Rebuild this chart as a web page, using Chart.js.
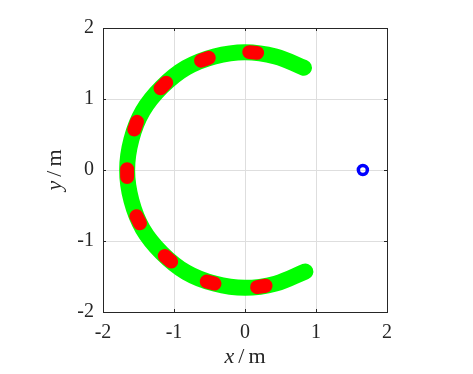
<!DOCTYPE html>
<html>
<head>
<meta charset="utf-8">
<script src="https://cdn.jsdelivr.net/npm/chart.js@4"></script>
<style>
html, body { margin: 0; padding: 0; background: #fff; }
#wrap { width: 473px; height: 374px; }
</style>
</head>
<body>
<div id="wrap"><canvas id="chart" width="473" height="374"></canvas></div>
<script>
// --- DATA ---

// green arc, sampled every ~15 degrees
const arcX = [0.83, 0.43, 0.00, -0.43, -0.83, -1.17, -1.44, -1.60, -1.66, -1.60, -1.44, -1.17, -0.83, -0.43, 0.00, 0.43, 0.85];
const arcY = [1.44, 1.60, 1.66, 1.60, 1.44, 1.17, 0.83, 0.43, 0.00, -0.43, -0.83, -1.17, -1.44, -1.60, -1.66, -1.60, -1.43];

// red dashes: start / end of each short segment
const dashX = [[0.17, 0.06], [-0.51, -0.62], [-1.11, -1.19], [-1.52, -1.56], [-1.66, -1.66],
               [-1.53, -1.48], [-1.13, -1.04], [-0.54, -0.43], [0.17, 0.29]];
const dashY = [[1.65, 1.66], [1.58, 1.54], [1.23, 1.15], [0.68, 0.57], [0.01, -0.10],
               [-0.65, -0.75], [-1.21, -1.29], [-1.57, -1.60], [-1.65, -1.63]];

// blue marker
const markerX = [1.66];
const markerY = [0];

const axisMin = -2;
const axisMax = 2;
const tickValues = [-2, -1, 0, 1, 2];

// --- PLUGIN: box, inward ticks, TeX-like axis labels ---

const boxPlugin = {
    id: 'box',
    afterDraw(chart) {
        const { ctx, chartArea: a, scales } = chart;
        ctx.save();
        ctx.strokeStyle = '#262626';
        ctx.lineWidth = 1;
        ctx.strokeRect(Math.round(a.left) + 0.5, Math.round(a.top) + 0.5,
            Math.round(a.right - a.left), Math.round(a.bottom - a.top));

        const len = 3;
        ctx.beginPath();
        tickValues.forEach(v => {
            const px = Math.round(scales.x.getPixelForValue(v)) + 0.5;
            ctx.moveTo(px, a.bottom); ctx.lineTo(px, a.bottom - len);
            ctx.moveTo(px, a.top); ctx.lineTo(px, a.top + len);
            const py = Math.round(scales.y.getPixelForValue(v)) + 0.5;
            ctx.moveTo(a.left, py); ctx.lineTo(a.left + len, py);
            ctx.moveTo(a.right, py); ctx.lineTo(a.right - len, py);
        });
        ctx.stroke();

        // axis labels: italic variable, upright unit
        ctx.fillStyle = '#262626';
        ctx.textBaseline = 'alphabetic';
        const drawLabel = (v, x, y) => {
            const italic = 'italic 22px "Liberation Serif", serif';
            const upright = '22px "Liberation Serif", serif';
            ctx.font = italic;
            const w1 = ctx.measureText(v).width;
            ctx.font = upright;
            const w2 = ctx.measureText('/').width;
            const w3 = ctx.measureText('m').width;
            const gap = 4;
            let cx = x - (w1 + w2 + w3 + 2 * gap) / 2;
            ctx.textAlign = 'left';
            ctx.font = italic;
            ctx.fillText(v, cx, y);
            cx += w1 + gap;
            ctx.font = upright;
            ctx.fillText('/', cx, y);
            cx += w2 + gap;
            ctx.fillText('m', cx, y);
        };
        drawLabel('x', (a.left + a.right) / 2, 363);

        ctx.translate(61, (a.top + a.bottom) / 2);
        ctx.rotate(-Math.PI / 2);
        drawLabel('y', 0, 0);
        ctx.restore();
    }
};

// --- CHART ---

const datasets = [];

datasets.push({
    data: arcX.map((x, i) => ({ x, y: arcY[i] })),
    showLine: true,
    borderColor: '#00ff00',
    borderWidth: 16,
    borderCapStyle: 'round',
    borderJoinStyle: 'round',
    tension: 0.4,
    pointRadius: 0,
    order: 3
});

dashX.forEach((xs, i) => {
    datasets.push({
        data: xs.map((x, j) => ({ x, y: dashY[i][j] })),
        showLine: true,
        borderColor: '#ff0000',
        borderWidth: 14,
        borderCapStyle: 'round',
        pointRadius: 0,
        order: 2
    });
});

datasets.push({
    data: markerX.map((x, i) => ({ x, y: markerY[i] })),
    showLine: false,
    pointRadius: 4.5,
    pointBorderWidth: 3.5,
    pointBorderColor: '#0000ff',
    pointBackgroundColor: 'rgba(0,0,0,0)',
    order: 1
});

const tickFont = { family: '"Liberation Serif", serif', size: 20 };

new Chart(document.getElementById('chart'), {
    type: 'scatter',
    data: { datasets },
    options: {
        responsive: false,
        animation: false,
        devicePixelRatio: 1,
        layout: { padding: { left: 0, top: 28, right: 86, bottom: 0 } },
        plugins: { legend: { display: false }, tooltip: { enabled: false } },
        scales: {
            x: {
                type: 'linear',
                min: axisMin, max: axisMax,
                afterBuildTicks: s => { s.ticks = tickValues.map(v => ({ value: v })); },
                afterFit: s => { s.height = 62; },
                grid: { color: '#dedede', drawTicks: false },
                border: { display: false },
                ticks: { color: '#262626', font: tickFont, padding: 9, maxRotation: 0,
                         callback: v => String(v) }
            },
            y: {
                type: 'linear',
                min: axisMin, max: axisMax,
                afterBuildTicks: s => { s.ticks = tickValues.map(v => ({ value: v })); },
                afterFit: s => { s.width = 103; },
                grid: { color: '#dedede', drawTicks: false },
                border: { display: false },
                ticks: { color: '#262626', font: tickFont, padding: 9,
                         callback: v => String(v) }
            }
        }
    },
    plugins: [boxPlugin]
});
</script>
</body>
</html>
